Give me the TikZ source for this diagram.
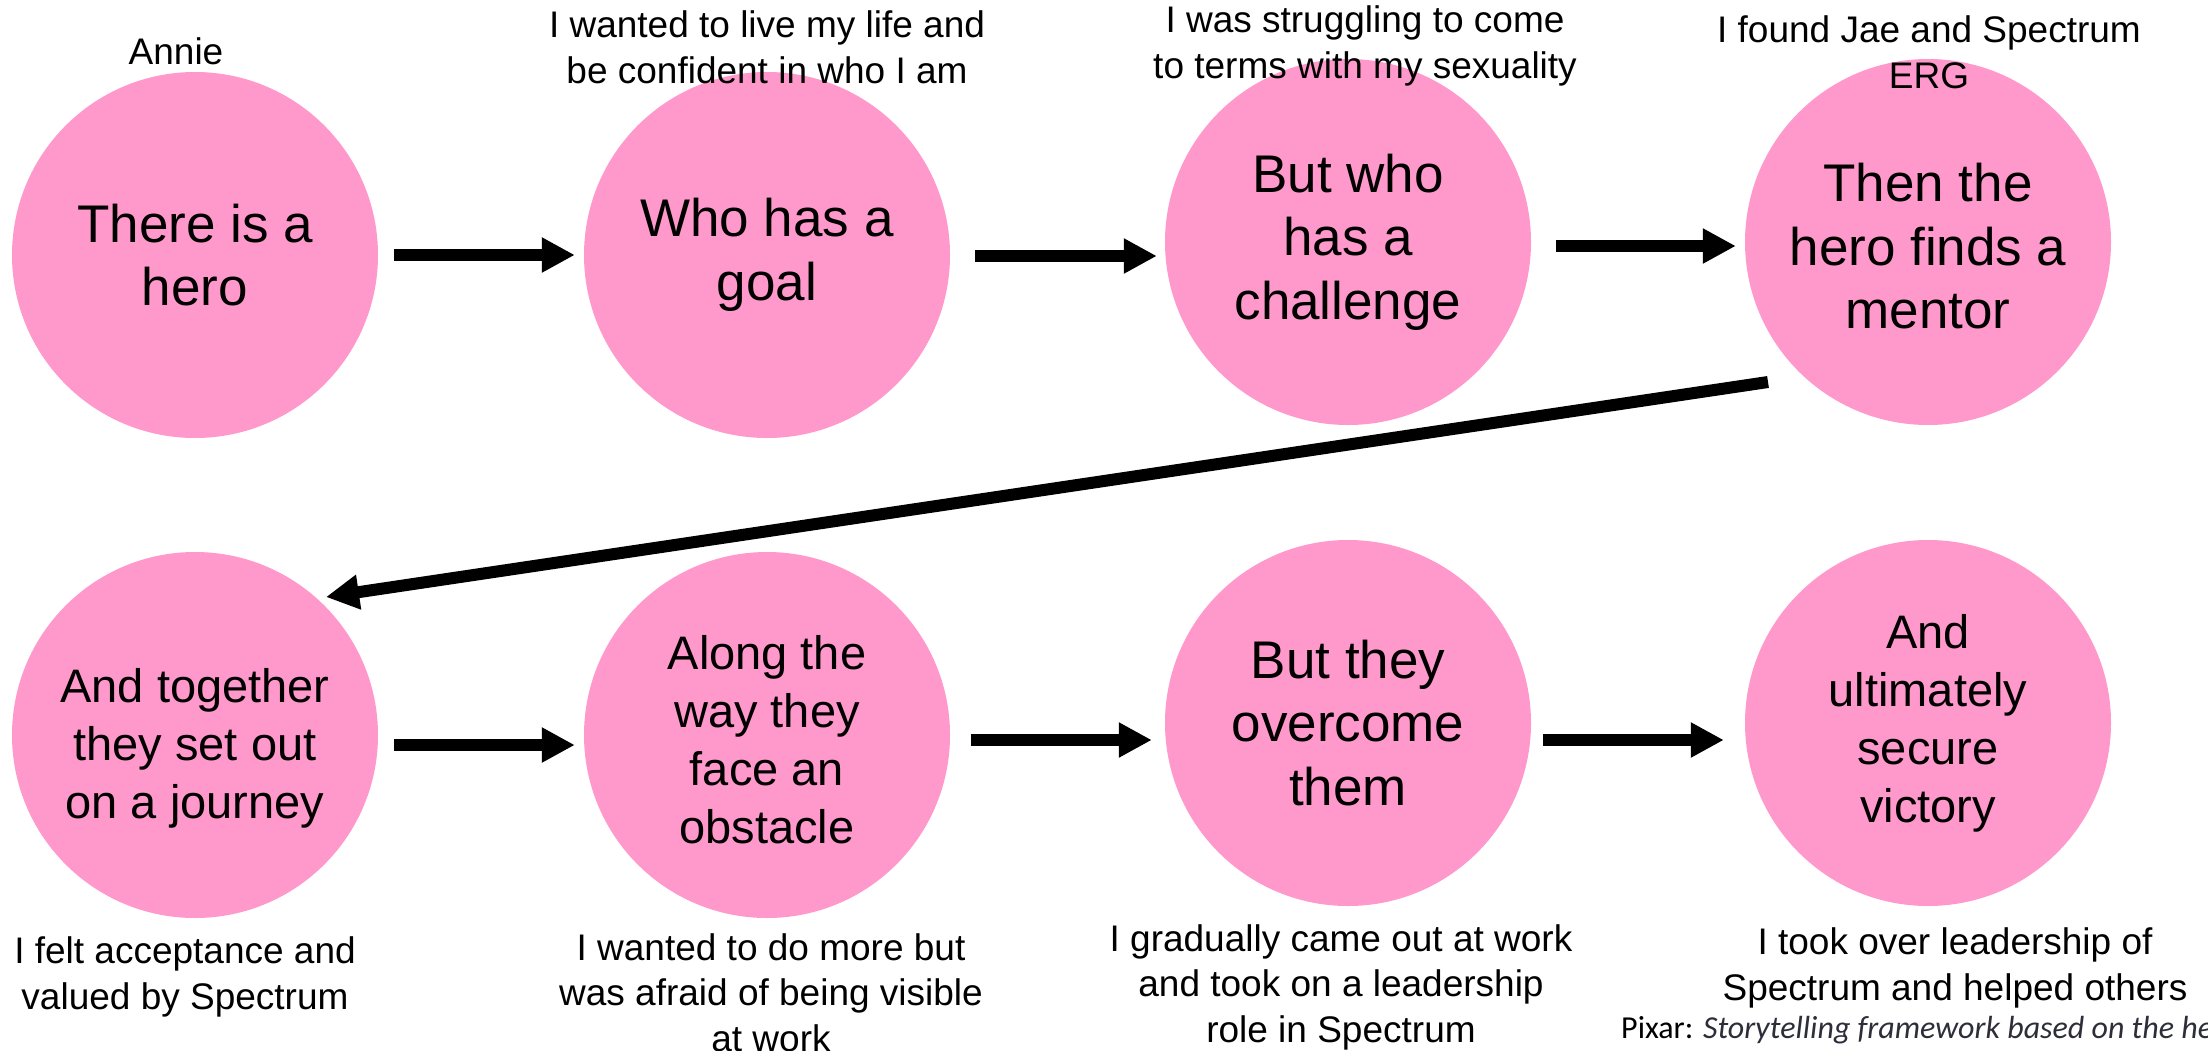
\documentclass[tikz,border=0pt]{standalone}
\usepackage{fontspec}
\setmainfont{Liberation Sans}
\newfontfamily\carlito{Carlito}
\usetikzlibrary{arrows.meta}
\definecolor{heropink}{HTML}{FF99CC}
\definecolor{citegray}{HTML}{2E2E3A}
\begin{document}
\begin{tikzpicture}[x=1pt,y=-1pt,
  stage/.style={circle, fill=heropink, minimum size=366pt, inner sep=0pt, align=center,
    font=\fontsize{53}{63.5}\selectfont},
  stageB/.style={stage, font=\fontsize{47}{58}\selectfont},
  note/.style={align=center, anchor=base, inner sep=0pt, font=\fontsize{37}{45.5}\selectfont},
  flow/.style={line width=12pt, -{Triangle[length=33pt,width=33pt]}},
]
\useasboundingbox (0,0) rectangle (2208,1050);
\fill[white] (0,0) rectangle (2208,1050);

% circles
\node[stage]  (c1) at (195,255)  {There is a\\hero};
\node[stage]  (c2) at (767,255)  {Who has a\\goal};
\node[stage]  (c3) at (1348,242) {But who\\has a\\challenge};
\node[stage]  (c4) at (1928,242) {\rule{0pt}{47pt}Then the\\hero finds a\\mentor};
\node[stageB] (c5) at (195,735)  {\rule{0pt}{60pt}And together\\they set out\\on a journey};
\node[stageB] (c6) at (767,735)  {\rule{0pt}{44pt}Along the\\way they\\face an\\obstacle};
\node[stage]  (c7) at (1348,723) {But they\\overcome\\them};
\node[stageB] (c8) at (1928,723) {And\\ultimately\\secure\\victory};

% connectors
\draw[flow] ([xshift=16pt]c1.east) -- ([xshift=-9pt]c2.west);
\draw[flow] ([shift={(25,1)}]c2.east) -- ([shift={(-8,14)}]c3.west);
\draw[flow] ([shift={(25,4)}]c3.east) -- ([shift={(-9,4)}]c4.west);
\draw[flow] ([shift={(-160,140)}]c4.center) -- ([shift={(131,-138)}]c5.center);
\draw[flow] ([shift={(16,10)}]c5.east) -- ([shift={(-9,10)}]c6.west);
\draw[flow] ([shift={(21,5)}]c6.east) -- ([shift={(-13,17)}]c7.west);
\draw[flow] ([shift={(12,17)}]c7.east) -- ([shift={(-21,17)}]c8.west);

% notes (anchor = baseline of last line)
\node[note] (n1) at (176,64)   {Annie};
\node[note] (n2) at (767,83)   {I wanted to live my life and\\be confident in who I am};
\node[note] (n3) at (1365,78)  {I was struggling to come\\to terms with my sexuality};
\node[note] (n4) at (1929,88)  {I found Jae and Spectrum\\ERG};
\node[note] (n5) at (185,1009) {I felt acceptance and\\valued by Spectrum};
\node[note] (n6) at (771,1051) {I wanted to do more but\\was afraid of being visible\\at work};
\node[note] (n7) at (1341,1042) {I gradually came out at work\\and took on a leadership\\role in Spectrum};
\node[note] (n8) at (1955,1000) {I took over leadership of\\Spectrum and helped others};
\node[anchor=base west, inner sep=0pt, font=\carlito\fontsize{32}{38}\selectfont] (src) at (1621,1038)
  {Pixar: \textcolor{citegray}{\itshape Storytelling framework based on the hero's journey}};
\end{tikzpicture}
\end{document}
